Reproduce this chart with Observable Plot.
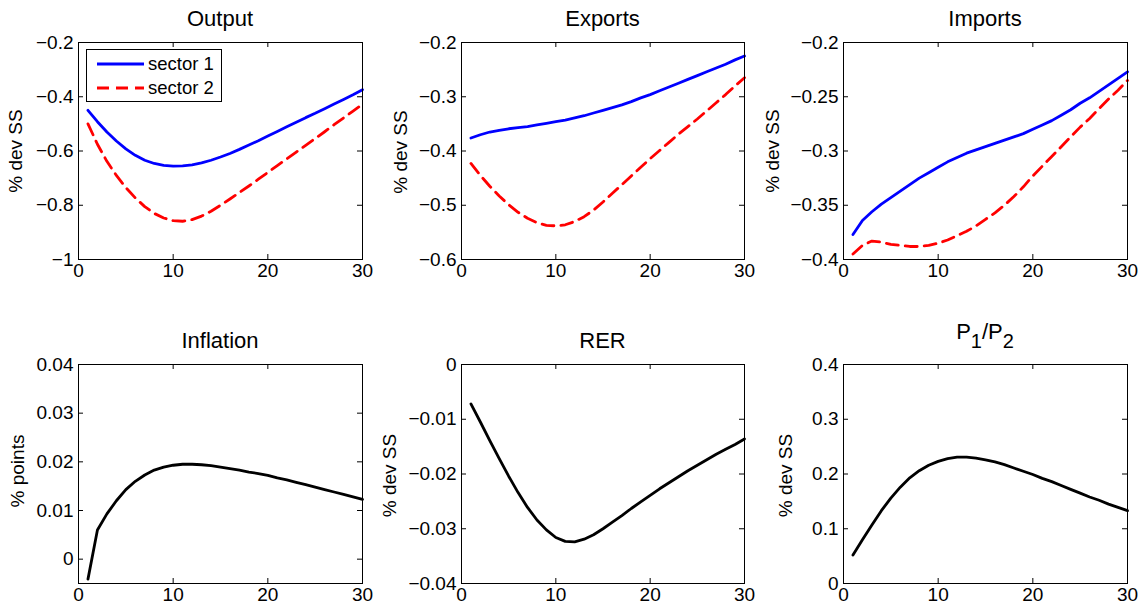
<!DOCTYPE html>
<html>
<head>
<meta charset="utf-8">
<script src="https://cdn.jsdelivr.net/npm/d3@7"></script>
<script src="https://cdn.jsdelivr.net/npm/@observablehq/plot@0.6"></script>
<style>
  html, body { margin: 0; padding: 0; background: #fff; }
  #root { position: relative; width: 1143px; height: 609px; background: #fff; overflow: hidden;
          font-family: "Liberation Sans", Arial, Helvetica, sans-serif; color: #000; }
  .panel { position: absolute; }
  .title { position: absolute; text-align: center; font-size: 22px; line-height: 22px; white-space: nowrap; }
  .legend { position: absolute; background: #fff; border: 1px solid #000; box-sizing: border-box; font-size: 18.5px; }
  .legend .row { position: absolute; left: 0; height: 22px; line-height: 22px; white-space: nowrap; }
</style>
</head>
<body>
<div id="root"></div>
<script>
// ---------- data ----------
const steps = [1,2,3,4,5,6,7,8,9,10,11,12,13,14,15,16,17,18,19,20,21,22,23,24,25,26,27,28,29,30];
const xTicks = [0, 10, 20, 30];
const xDomain = [0, 30];

const seriesNames = ["sector 1", "sector 2"];

const outputSector1 = [-0.450,-0.492,-0.530,-0.563,-0.592,-0.616,-0.634,-0.646,-0.653,-0.656,-0.655,-0.651,-0.644,-0.634,-0.622,-0.609,-0.594,-0.578,-0.562,-0.545,-0.528,-0.511,-0.494,-0.477,-0.461,-0.444,-0.427,-0.410,-0.393,-0.374];
const outputSector2 = [-0.500,-0.575,-0.638,-0.690,-0.735,-0.773,-0.805,-0.830,-0.847,-0.857,-0.859,-0.853,-0.840,-0.822,-0.800,-0.777,-0.753,-0.729,-0.704,-0.679,-0.654,-0.629,-0.604,-0.579,-0.554,-0.529,-0.503,-0.478,-0.453,-0.428];

const exportsSector1 = [-0.376,-0.370,-0.365,-0.362,-0.359,-0.357,-0.355,-0.352,-0.349,-0.346,-0.343,-0.339,-0.335,-0.330,-0.325,-0.320,-0.315,-0.309,-0.302,-0.296,-0.289,-0.282,-0.275,-0.268,-0.261,-0.254,-0.247,-0.240,-0.232,-0.225];
const exportsSector2 = [-0.423,-0.445,-0.465,-0.483,-0.499,-0.513,-0.524,-0.532,-0.537,-0.538,-0.536,-0.530,-0.521,-0.509,-0.494,-0.478,-0.462,-0.446,-0.430,-0.414,-0.399,-0.384,-0.369,-0.355,-0.341,-0.326,-0.311,-0.296,-0.280,-0.265];

const importsSector1 = [-0.377,-0.364,-0.356,-0.349,-0.343,-0.337,-0.331,-0.325,-0.320,-0.315,-0.310,-0.306,-0.302,-0.299,-0.296,-0.293,-0.290,-0.287,-0.284,-0.280,-0.276,-0.272,-0.267,-0.262,-0.256,-0.251,-0.245,-0.239,-0.233,-0.227];
const importsSector2 = [-0.395,-0.387,-0.383,-0.384,-0.386,-0.387,-0.388,-0.388,-0.387,-0.385,-0.382,-0.378,-0.374,-0.369,-0.363,-0.357,-0.350,-0.342,-0.333,-0.323,-0.314,-0.305,-0.296,-0.287,-0.278,-0.270,-0.261,-0.252,-0.244,-0.235];

const inflationValues = [-0.0041,0.0060,0.0093,0.0120,0.0143,0.0160,0.0173,0.0183,0.0189,0.0193,0.0195,0.0195,0.0194,0.0192,0.0189,0.0186,0.0183,0.0179,0.0176,0.0172,0.0167,0.0163,0.0158,0.0153,0.0148,0.0143,0.0138,0.0133,0.0128,0.0123];
const rerValues = [-0.0072,-0.0105,-0.0139,-0.0172,-0.0204,-0.0234,-0.0261,-0.0284,-0.0302,-0.0316,-0.0323,-0.0324,-0.0319,-0.0311,-0.0300,-0.0288,-0.0276,-0.0263,-0.0251,-0.0239,-0.0227,-0.0216,-0.0205,-0.0194,-0.0184,-0.0174,-0.0164,-0.0155,-0.0146,-0.0136];
const p1p2Values = [0.052,0.080,0.107,0.133,0.156,0.176,0.193,0.206,0.216,0.223,0.228,0.231,0.231,0.229,0.226,0.222,0.217,0.211,0.205,0.199,0.192,0.186,0.179,0.172,0.165,0.158,0.152,0.145,0.139,0.133];

const outputTicks = [-1, -0.8, -0.6, -0.4, -0.2];
const exportsTicks = [-0.6, -0.5, -0.4, -0.3, -0.2];
const importsTicks = [-0.4, -0.35, -0.3, -0.25, -0.2];
const inflationTicks = [0, 0.01, 0.02, 0.03, 0.04];
const rerTicks = [-0.04, -0.03, -0.02, -0.01, 0];
const p1p2Ticks = [0, 0.1, 0.2, 0.3, 0.4];

const outputDomain = [-1, -0.2];
const exportsDomain = [-0.6, -0.2];
const importsDomain = [-0.4, -0.2];
const inflationDomain = [-0.005, 0.04];
const rerDomain = [-0.04, 0];
const p1p2Domain = [0, 0.4];

const titles = ["Output", "Exports", "Imports", "Inflation", "RER", "P<sub>1</sub>/P<sub>2</sub>"];
const yLabels = ["% dev SS", "% dev SS", "% dev SS", "% points", "% dev SS", "% dev SS"];

// ---------- layout ----------
const colLeft = [78, 461, 843];
const colWidth = [284, 283, 284];
const rowTop = [42, 364];
const rowHeight = [217, 219];
const mL = 78, mR = 16, mT = 12, mB = 30;

const blue = "#0000ff", red = "#ff0000";
const solid = {stroke: blue, strokeWidth: 2.8};
const dashed = {stroke: red, strokeWidth: 2.8, strokeDasharray: "12,7"};
const black = {stroke: "#000", strokeWidth: 2.8};

const panels = [
  {col: 0, row: 0, domain: outputDomain, ticks: outputTicks, series: [[outputSector1, solid], [outputSector2, dashed]], labelOffset: 70, labelDy: 0},
  {col: 1, row: 0, domain: exportsDomain, ticks: exportsTicks, series: [[exportsSector1, solid], [exportsSector2, dashed]], labelOffset: 68, labelDy: 1},
  {col: 2, row: 0, domain: importsDomain, ticks: importsTicks, series: [[importsSector1, solid], [importsSector2, dashed]], labelOffset: 78, labelDy: 0},
  {col: 0, row: 1, domain: inflationDomain, ticks: inflationTicks, series: [[inflationValues, black]], labelOffset: 68, labelDy: -3},
  {col: 1, row: 1, domain: rerDomain, ticks: rerTicks, series: [[rerValues, black]], labelOffset: 79, labelDy: 1.5},
  {col: 2, row: 1, domain: p1p2Domain, ticks: p1p2Ticks, series: [[p1p2Values, black]], labelOffset: 65, labelDy: 1.5}
];

const fmt = d3.format("~g");
const root = document.getElementById("root");

panels.forEach((p, i) => {
  const fw = colWidth[p.col], fh = rowHeight[p.row];
  const marks = [
    Plot.tickY(p.ticks, {y: d => d, insetRight: fw - 5, stroke: "#000", strokeWidth: 1}),
    Plot.tickY(p.ticks, {y: d => d, insetLeft: fw - 5, stroke: "#000", strokeWidth: 1}),
    Plot.tickX(xTicks, {x: d => d, insetBottom: fh - 5, stroke: "#000", strokeWidth: 1}),
    Plot.tickX(xTicks, {x: d => d, insetTop: fh - 5, stroke: "#000", strokeWidth: 1}),
    Plot.axisX(xTicks, {tickSize: 0, tickPadding: 4, tickFormat: fmt, label: null}),
    Plot.axisY(p.ticks, {tickSize: 0, tickPadding: 5, tickFormat: fmt, label: null}),
    Plot.text([yLabels[i]], {text: d => d, frameAnchor: "left", rotate: -90, lineAnchor: "top", textAnchor: "middle",
      dx: -p.labelOffset, dy: p.labelDy, fontSize: 19}),
    ...p.series.map(([vals, style]) => Plot.line(vals, {x: steps, y: d => d, ...style})),
    Plot.frame({stroke: "#000", strokeWidth: 1})
  ];
  const chart = Plot.plot({
    width: mL + fw + mR,
    height: mT + fh + mB,
    marginLeft: mL, marginRight: mR, marginTop: mT, marginBottom: mB,
    x: {domain: xDomain},
    y: {domain: p.domain},
    style: {fontFamily: '"Liberation Sans", Arial, Helvetica, sans-serif', fontSize: "19px", background: "#fff", color: "#000", overflow: "visible"},
    marks
  });
  const wrap = document.createElement("div");
  wrap.className = "panel";
  wrap.style.left = (colLeft[p.col] - mL) + "px";
  wrap.style.top = (rowTop[p.row] - mT) + "px";
  wrap.appendChild(chart);
  root.appendChild(wrap);

  const t = document.createElement("div");
  t.className = "title";
  t.style.left = colLeft[p.col] + "px";
  t.style.width = fw + "px";
  const baseline = rowTop[p.row] - 15.5 - (i === 5 ? 8.5 : 0);
  t.style.top = (baseline - 18.6) + "px";
  t.innerHTML = titles[i].replace(/<sub>/g, '<span style="position:relative;top:8.5px;font-size:20px">').replace(/<\/sub>/g, '</span>');
  root.appendChild(t);
});

// ---------- legend (Output panel) ----------
const legend = document.createElement("div");
legend.className = "legend";
legend.style.left = "86px";
legend.style.top = "49px";
legend.style.width = "136px";
legend.style.height = "53px";
const swatchStyles = [solid, dashed];
seriesNames.forEach((name, k) => {
  const row = document.createElement("div");
  row.className = "row";
  row.style.top = (k === 0 ? 3 : 27) + "px";
  const st = swatchStyles[k];
  row.innerHTML = `<svg width="58" height="22" style="position:absolute;left:0;top:0">
      <line x1="10" x2="57" y1="11" y2="11" stroke="${st.stroke}" stroke-width="${st.strokeWidth}" ${st.strokeDasharray ? `stroke-dasharray="${st.strokeDasharray}"` : ""}/>
    </svg><span style="position:absolute;left:61px;top:0">${name}</span>`;
  legend.appendChild(row);
});
root.appendChild(legend);
</script>
</body>
</html>
